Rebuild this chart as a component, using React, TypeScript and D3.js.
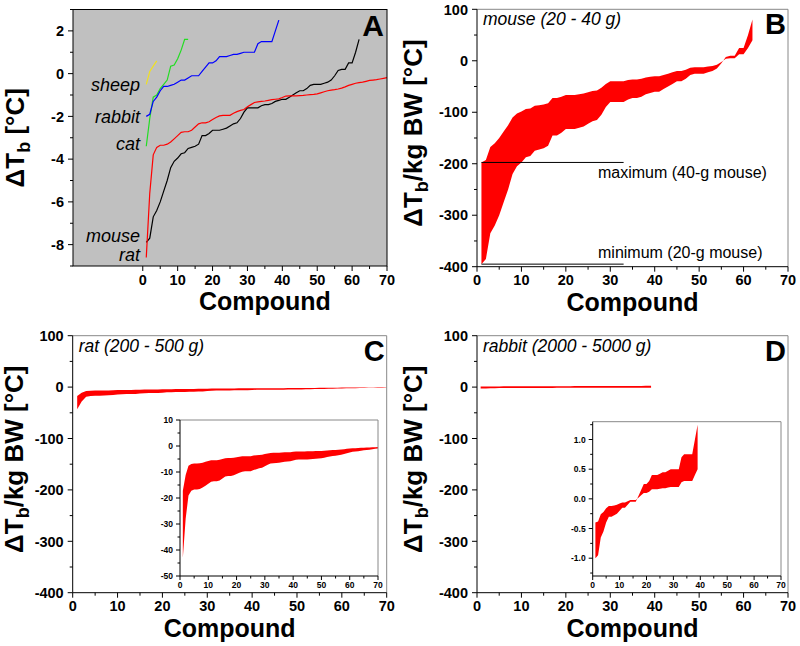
import React from 'react';
import * as d3 from 'd3';

// ΔTb [°C] per compound (compound index = position + 1)
const sheepDT = [-0.5, 0.1, 0.35, 0.6];
const catDT = [-3.4, -2.1, -1.1, -1.0, -0.7, -0.5, -0.3, 0.35, 0.4, 0.7, 1.1, 1.6, 1.6];
const rabbitDT = [
  -2.0, -1.9, -1.3, -1.1, -0.8, -0.6, -0.6, -0.55, -0.5, -0.4,
  -0.3, -0.3, -0.2, -0.1, -0.1, -0.1, 0.1, 0.3, 0.5, 0.5,
  0.6, 0.8, 0.8, 0.8, 0.85, 0.9, 0.9, 0.95, 1.0, 1.0,
  1.0, 1.0, 1.4, 1.5, 1.5, 1.5, 1.5, 2.0, 2.5,
];
const mouseDT = [
  -7.9, -7.7, -6.7, -6.4, -6.0, -5.5, -5.0, -4.4, -4.1, -3.95,
  -3.75, -3.7, -3.5, -3.45, -3.4, -3.3, -2.9, -2.9, -2.8, -2.65,
  -2.65, -2.65, -2.6, -2.55, -2.45, -2.35, -2.3, -2.1, -1.8, -1.6,
  -1.6, -1.6, -1.6, -1.5, -1.45, -1.45, -1.4, -1.3, -1.25, -1.2,
  -1.2, -1.1, -1.0, -0.9, -0.8, -0.8, -0.7, -0.55, -0.5, -0.5,
  -0.5, -0.45, -0.4, -0.3, -0.1, 0.15, 0.2, 0.2, 0.5, 0.5,
  1.0, 1.6,
];
const ratDT = [
  -8.6, -5.6, -3.8, -3.45, -3.35, -3.35, -3.3, -3.2, -3.05, -2.9,
  -2.75, -2.72, -2.72, -2.65, -2.5, -2.35, -2.3, -2.3, -2.25, -2.15,
  -2.05, -1.98, -1.95, -1.95, -1.95, -1.85, -1.78, -1.72, -1.68, -1.55,
  -1.45, -1.35, -1.32, -1.3, -1.28, -1.25, -1.22, -1.2, -1.18, -1.12,
  -1.05, -1.04, -1.04, -1.04, -1.03, -1.02, -1.0, -0.98, -0.97, -0.95,
  -0.9, -0.85, -0.8, -0.77, -0.75, -0.72, -0.68, -0.62, -0.55, -0.5,
  -0.45, -0.42, -0.4, -0.36, -0.32, -0.3, -0.28, -0.25, -0.22, -0.19,
];

// body-mass ranges [g] used for the per-kg panels
const mouseMass = [20, 40];
const ratMass = [200, 500];
const rabbitMass = [2000, 5000];

const speciesLabels = ['sheep', 'rabbit', 'cat', 'mouse', 'rat'];
const speciesLabelY = [-0.8, -2.3, -3.55, -7.9, -8.75];
const refLineX = [1, 33];

const F = '"Liberation Sans", Arial, Helvetica, sans-serif';

type Scale = d3.ScaleLinear<number, number>;

function AxisLeft({ y, x, majors, minors, fmt, fs, maj = 5, mn = 3, gap = 4 }: any) {
  return (
    <g>
      {minors.map((v: number, i: number) => (
        <line key={'m' + i} x1={x} x2={x - mn} y1={y(v)} y2={y(v)} stroke="#000" strokeWidth={1} />
      ))}
      {majors.map((v: number, i: number) => (
        <g key={'M' + i}>
          <line x1={x} x2={x - maj} y1={y(v)} y2={y(v)} stroke="#000" strokeWidth={1} />
          <text x={x - maj - gap} y={y(v)} dy="0.36em" textAnchor="end" fontSize={fs} fontWeight="bold" fontFamily={F}>
            {fmt(v)}
          </text>
        </g>
      ))}
    </g>
  );
}

function AxisBottom({ x, y, majors, minors, fmt, fs, maj = 5, mn = 3, gap = 3 }: any) {
  return (
    <g>
      {minors.map((v: number, i: number) => (
        <line key={'m' + i} x1={x(v)} x2={x(v)} y1={y} y2={y + mn} stroke="#000" strokeWidth={1} />
      ))}
      {majors.map((v: number, i: number) => (
        <g key={'M' + i}>
          <line x1={x(v)} x2={x(v)} y1={y} y2={y + maj} stroke="#000" strokeWidth={1} />
          <text x={x(v)} y={y + maj + gap + fs * 0.74} textAnchor="middle" fontSize={fs} fontWeight="bold" fontFamily={F}>
            {fmt(v)}
          </text>
        </g>
      ))}
    </g>
  );
}

function Frame({ l, r, t, b }: any) {
  return (
    <g>
      <line x1={l} x2={r} y1={t} y2={t} stroke="#888" strokeWidth={1} />
      <line x1={r} x2={r} y1={t} y2={b} stroke="#888" strokeWidth={1} />
      <line x1={l} x2={l} y1={t} y2={b} stroke="#000" strokeWidth={1} />
      <line x1={l} x2={r} y1={b} y2={b} stroke="#000" strokeWidth={1} />
    </g>
  );
}

function YLabelPerKg({ x, cy }: any) {
  return (
    <text transform={`translate(${x},${cy}) rotate(-90)`} textAnchor="middle" fontSize={26} fontWeight="bold" fontFamily={F}>
      ΔT<tspan fontSize={18} dy={6}>b</tspan>
      <tspan dy={-6}>/kg BW [°C]</tspan>
    </text>
  );
}

const range = (a: number, b: number, s: number) => d3.range(a, b + s / 2, s);

function band(data: number[], mass: number[], x: Scale, y: Scale) {
  return d3
    .area<number>()
    .x((_, i) => x(i + 1))
    .y0((d) => y((d * 1000) / mass[0]))
    .y1((d) => y((d * 1000) / mass[1]))(data) as string;
}

function MainPerKg({ p, data, mass, title, letter, stroke, labelDx, compDy }: any) {
  const x = d3.scaleLinear().domain([0, 70]).range([p.l, p.r]);
  const y = d3.scaleLinear().domain([-400, 100]).range([p.b, p.t]);
  const majY = range(-400, 100, 100);
  const minY = range(-350, 50, 100);
  return (
    <g>
      <path d={band(data, mass, x, y)} fill="#ff0000" stroke={stroke ? '#ff0000' : 'none'} strokeWidth={stroke ? 1.6 : 0} />
      <Frame {...p} />
      <AxisLeft y={y} x={p.l} majors={majY} minors={minY} fmt={(v: number) => String(v)} fs={14.5} />
      <AxisBottom x={x} y={p.b} majors={range(0, 70, 10)} minors={range(5, 65, 10)} fmt={(v: number) => String(v)} fs={14.5} />
      <text x={p.l + 6} y={p.t + 16} fontSize={17.5} fontStyle="italic" fontFamily={F}>{title}</text>
      <text x={p.r - 2} y={p.t + 25} textAnchor="end" fontSize={29} fontWeight="bold" fontFamily={F}>{letter}</text>
      <text x={(p.l + p.r) / 2} y={p.b + compDy} textAnchor="middle" fontSize={25} fontWeight="bold" fontFamily={F}>Compound</text>
      <YLabelPerKg x={p.l - labelDx} cy={(p.t + p.b) / 2 - 5} />
    </g>
  );
}

function Inset({ p, data, mass, yDom, yMaj, yMin, fmt }: any) {
  const x = d3.scaleLinear().domain([0, 70]).range([p.l, p.r]);
  const y = d3.scaleLinear().domain(yDom).range([p.b, p.t]);
  return (
    <g>
      <rect x={p.l} y={p.t} width={p.r - p.l} height={p.b - p.t} fill="#fff" />
      <path d={band(data, mass, x, y)} fill="#ff0000" />
      <Frame {...p} />
      <AxisLeft y={y} x={p.l} majors={yMaj} minors={yMin} fmt={fmt} fs={8.5} maj={4} mn={2.5} gap={3} />
      <AxisBottom x={x} y={p.b} majors={range(0, 70, 10)} minors={range(5, 65, 10)} fmt={(v: number) => String(v)} fs={8.5} maj={4} mn={2.5} gap={2} />
    </g>
  );
}

export default function App() {
  // Panel A
  const pA = { l: 73, r: 387, t: 9.5, b: 266 };
  const xA = d3.scaleLinear().domain([-20, 70]).range([pA.l, pA.r]);
  const yA = d3.scaleLinear().domain([-9, 3]).range([pA.b, pA.t]);
  const lineA = d3.line<number>().x((_, i) => xA(i + 1)).y((d) => yA(d));
  const seriesA = [
    { d: sheepDT, c: '#f0e020' },
    { d: catDT, c: '#22dd22' },
    { d: rabbitDT, c: '#0000ff' },
    { d: mouseDT, c: '#000000' },
    { d: ratDT, c: '#ff0000' },
  ];

  const pB = { l: 477, r: 788, t: 9.3, b: 266.7 };
  const pC = { l: 72.7, r: 386.7, t: 335.7, b: 592.7 };
  const pD = { l: 477, r: 788, t: 335.7, b: 592.7 };

  const xB = d3.scaleLinear().domain([0, 70]).range([pB.l, pB.r]);
  const yB = d3.scaleLinear().domain([-400, 100]).range([pB.b, pB.t]);
  const maxRef = (mouseDT[0] * 1000) / mouseMass[1];
  const minRef = (mouseDT[0] * 1000) / mouseMass[0];

  return (
    <svg width={800} height={646} style={{ position: 'absolute', left: 0, top: 0, background: '#fff' }} fontFamily={F}>
      <rect x={0} y={0} width={800} height={646} fill="#fff" />
      {/* Panel A */}
      <rect x={pA.l} y={pA.t} width={pA.r - pA.l} height={pA.b - pA.t} fill="#c0c0c0" />
      {seriesA.map((s, i) => (
        <path key={i} d={lineA(s.d) as string} fill="none" stroke={s.c} strokeWidth={1.2} />
      ))}
      <rect x={pA.l} y={pA.t} width={pA.r - pA.l} height={pA.b - pA.t} fill="none" stroke="#000" strokeWidth={1} />
      <AxisLeft y={yA} x={pA.l} majors={range(-8, 2, 2)} minors={range(-9, 3, 2)} fmt={(v: number) => String(v)} fs={14.5} />
      <AxisBottom x={xA} y={pA.b} majors={range(0, 70, 10)} minors={range(5, 65, 10)} fmt={(v: number) => String(v)} fs={14.5} />
      {speciesLabels.map((s, i) => (
        <text key={s} x={140} y={yA(speciesLabelY[i])} textAnchor="end" fontSize={18} fontStyle="italic" fontFamily={F}>{s}</text>
      ))}
      <text x={pA.r - 3} y={pA.t + 26} textAnchor="end" fontSize={30} fontWeight="bold" fontFamily={F}>A</text>
      <text x={(xA(0) + xA(70)) / 2} y={pA.b + 44} textAnchor="middle" fontSize={25} fontWeight="bold" fontFamily={F}>Compound</text>
      <text transform={`translate(${pA.l - 49},${(pA.t + pA.b) / 2}) rotate(-90)`} textAnchor="middle" fontSize={26} fontWeight="bold" fontFamily={F}>
        ΔT<tspan fontSize={18} dy={6}>b</tspan>
        <tspan dy={-6}> [°C]</tspan>
      </text>

      {/* Panel B */}
      <MainPerKg p={pB} data={mouseDT} mass={mouseMass} title="mouse (20 - 40 g)" letter="B" labelDx={55} compDy={44} />
      <line x1={xB(refLineX[0])} x2={xB(refLineX[1])} y1={yB(maxRef)} y2={yB(maxRef)} stroke="#000" strokeWidth={1} />
      <line x1={xB(refLineX[0])} x2={xB(refLineX[1])} y1={yB(minRef)} y2={yB(minRef)} stroke="#000" strokeWidth={1} />
      <text x={598} y={yB(maxRef) + 16} fontSize={16} fontFamily={F}>maximum (40-g mouse)</text>
      <text x={598} y={yB(minRef) - 6} fontSize={16} fontFamily={F}>minimum (20-g mouse)</text>

      {/* Panel C */}
      <MainPerKg p={pC} data={ratDT} mass={ratMass} title="rat (200 - 500 g)" letter="C" labelDx={50} compDy={44} />
      <Inset
        p={{ l: 180, r: 378, t: 420, b: 576 }}
        data={ratDT}
        mass={ratMass}
        yDom={[-50, 10]}
        yMaj={range(-50, 10, 10)}
        yMin={range(-45, 5, 10)}
        fmt={(v: number) => String(v)}
      />

      {/* Panel D */}
      <MainPerKg p={pD} data={rabbitDT} mass={rabbitMass} title="rabbit (2000 - 5000 g)" letter="D" stroke labelDx={55} compDy={44} />
      <Inset
        p={{ l: 592.7, r: 781, t: 421.7, b: 576 }}
        data={rabbitDT}
        mass={rabbitMass}
        yDom={[-1.3, 1.3]}
        yMaj={range(-1, 1, 0.5)}
        yMin={range(-1.25, 1.25, 0.5)}
        fmt={(v: number) => v.toFixed(1)}
      />
    </svg>
  );
}
